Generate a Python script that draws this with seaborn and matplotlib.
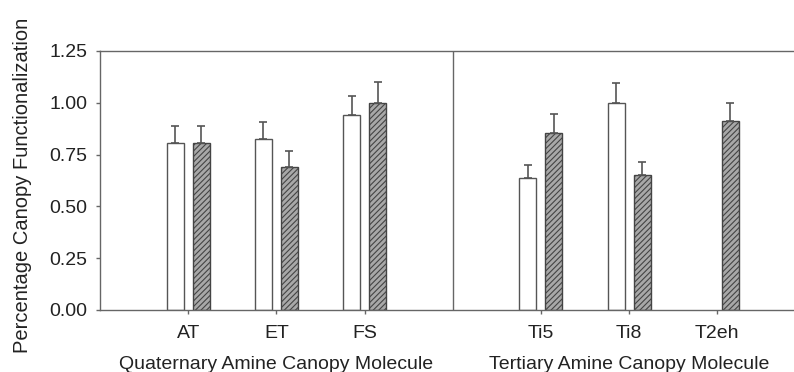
import numpy as np
import pandas as pd
import matplotlib.pyplot as plt
import seaborn as sns

# data
molecules = ['AT', 'ET', 'FS', 'Ti5', 'Ti8', 'T2eh']
white_vals = [0.805, 0.824, 0.939, 0.636, 0.998, np.nan]
white_err = [0.081, 0.084, 0.095, 0.063, 0.099, np.nan]
hatch_vals = [0.805, 0.692, 1.000, 0.853, 0.649, 0.910]
hatch_err = [0.081, 0.073, 0.100, 0.091, 0.063, 0.090]
series = ['white', 'hatched']

# blank slot between the quaternary and tertiary groups
order = ['AT', 'ET', 'FS', ' ', 'Ti5', 'Ti8', 'T2eh']

df = pd.DataFrame({
    'Molecule': molecules * 2,
    'Series': [series[0]] * len(molecules) + [series[1]] * len(molecules),
    'Value': white_vals + hatch_vals,
    'Err': white_err + hatch_err,
})
df = df.dropna(subset=['Value'])

sns.set_theme(style='ticks')
plt.rcParams['font.family'] = ['Liberation Sans', 'DejaVu Sans']
plt.rcParams['hatch.color'] = '#555555'
plt.rcParams['hatch.linewidth'] = 0.8

fig = plt.figure(figsize=(7.94, 3.72), dpi=100)
ax = fig.add_axes([0.126, 0.167, 0.874, 0.696])

sns.barplot(data=df, x='Molecule', y='Value', hue='Series', order=order,
            hue_order=series, palette=['white', '#a8a8a8'], width=0.59, gap=0.35,
            errorbar=None, legend=False, ax=ax, linewidth=1.0, edgecolor='#555555')

grey = '#666666'
txt = '#222222'
for level, cont in zip(series, ax.containers):
    sub = df[df['Series'] == level].set_index('Molecule').reindex(
        [m for m in order if m in set(df.loc[df['Series'] == level, 'Molecule'])])
    for bar, (name, row) in zip(cont.patches, sub.iterrows()):
        if level == 'hatched':
            bar.set_hatch('//////')
            bar.set_edgecolor('#444444')
        xc = bar.get_x() + bar.get_width() / 2
        ax.errorbar(xc, row['Value'], yerr=[[0], [row['Err']]], fmt='none',
                    ecolor='#555555', elinewidth=1.2, capsize=3, capthick=1.2)

ax.axvline(3, color=grey, lw=1.0)
ax.set_xlim(-1, 6.87)
ax.set_ylim(0, 1.25)
ax.set_yticks([0, 0.25, 0.5, 0.75, 1.0, 1.25])
ax.set_yticklabels([f'{v:.2f}' for v in [0, 0.25, 0.5, 0.75, 1.0, 1.25]])
ax.set_xticks([0, 1, 2, 4, 5, 6])
ax.set_xticklabels(molecules)
ax.tick_params(axis='both', labelsize=14, colors=txt, length=3, width=1.0, color=grey)
ax.tick_params(axis='x', pad=8)
ax.tick_params(axis='y', pad=6)
ax.set_xlabel('')
ax.set_ylabel('Percentage Canopy Functionalization', fontsize=14.5, color=txt)
ax.yaxis.set_label_coords(-0.098, 0.48)

for side in ['left', 'bottom', 'top']:
    ax.spines[side].set_color(grey)
    ax.spines[side].set_linewidth(1.0)
ax.spines['right'].set_visible(False)

ax.text(1, -0.21, 'Quaternary Amine Canopy Molecule', transform=ax.get_xaxis_transform(),
        ha='center', va='center', fontsize=14, color=txt)
ax.text(5, -0.21, 'Tertiary Amine Canopy Molecule', transform=ax.get_xaxis_transform(),
        ha='center', va='center', fontsize=14, color=txt)

fig.savefig('out.png', dpi=100)
